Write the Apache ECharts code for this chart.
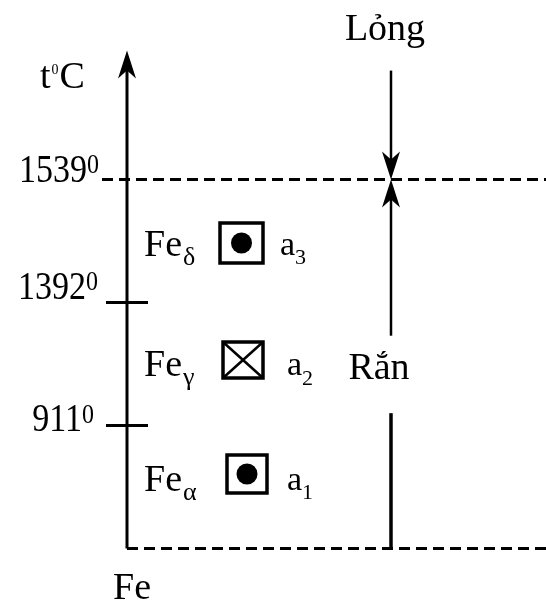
<!DOCTYPE html>
<html>
<head>
<meta charset="utf-8">
<script src="https://cdn.jsdelivr.net/npm/echarts@6/dist/echarts.min.js"></script>
<style>
html, body { margin: 0; padding: 0; background: #fff; }
#chart { width: 546px; height: 605px; }
</style>
</head>
<body>
<div id="chart"></div>
<script>
// các mốc nhiệt độ (từ dưới lên), vị trí theo bậc 1..3 trên trục
var levelLabels = ['911', '1392', '1539'];
var levelIndex = [1, 2, 3];
// các dạng thù hình của sắt
var phaseNames = ['α', 'γ', 'δ'];
var cellTypes = ['bcc', 'fcc', 'bcc'];
var latticeLabels = ['1', '2', '3'];
var stateLabels = ['Rắn', 'Lỏng'];
var axisTitle = ['t', '0', 'C'];
var elementName = 'Fe';

// bố cục (toạ độ trong hệ trục ẩn)
var AXIS_X = 127, RIGHT_X = 391, LINE_END = 546, AXIS_TOP = 4.05;
var levelLabelX = [94, 98, 99];
var levelLabelY = [1.036, 2.11, 3.065];
var phaseTextX = 144, phaseTextY = [0.551, 1.482, 2.462];
var latticeX = [287, 287, 280];
var boxX = [247, 243, 241.5], boxY = [0.605, 1.532, 2.484];
var boxW = [40, 40, 43], boxH = [38, 36, 40];

var FONT = '"Liberation Serif", "Times New Roman", serif';
var rich = {
    m: { fontSize: 38, fontFamily: FONT, color: '#000' },
    d: { fontSize: 34, fontFamily: FONT, color: '#000' },
    p: { fontSize: 24, fontFamily: FONT, color: '#000', verticalAlign: 'top' },
    q: { fontSize: 14, fontFamily: FONT, color: '#000', verticalAlign: 'top', padding: [4, 1, 0, 1] }
};

var ctx = document.createElement('canvas').getContext('2d');
function textWidth(str, size) {
    ctx.font = size + 'px ' + FONT;
    return ctx.measureText(str).width;
}

// các đoạn thẳng: x1, y1, x2, y2, kiểu (0 liền, 1 nét đứt, 2 mũi tên), độ dày
var lines = [];
lines.push([AXIS_X, 0, AXIS_X, AXIS_TOP, 2, 3]);
lines.push([AXIS_X, 0, LINE_END, 0, 1, 3]);
lines.push([102, levelIndex[2], LINE_END, levelIndex[2], 1, 3]);
lines.push([106, levelIndex[0], 148, levelIndex[0], 0, 3]);
lines.push([106, levelIndex[1], 148, levelIndex[1], 0, 3]);
lines.push([RIGHT_X, 3.886, RIGHT_X, levelIndex[2], 2, 2.5]);
lines.push([RIGHT_X, 1.73, RIGHT_X, levelIndex[2], 2, 2.5]);
lines.push([RIGHT_X, 1.10, RIGHT_X, 0, 0, 3.5]);

var boxes = [];
for (var i = 0; i < cellTypes.length; i++) {
    boxes.push([boxX[i], boxY[i], cellTypes[i] === 'fcc' ? 1 : 0, boxW[i], boxH[i]]);
}

// nhãn chữ: x, y, căn lề, nội dung, chỉ số dưới (nếu có)
var texts = [];
for (var i = 0; i < levelLabels.length; i++) {
    texts.push({ x: levelLabelX[i], y: levelLabelY[i], align: 'right', sy: 1.15, text: '{d|' + levelLabels[i] + '}{p|0}' });
}
for (var i = 0; i < phaseNames.length; i++) {
    texts.push({ x: phaseTextX, y: phaseTextY[i], base: elementName, size: 38, sub: phaseNames[i], subSize: 26, subDy: 12, gap: 1 });
    texts.push({ x: latticeX[i], y: phaseTextY[i], base: 'a', size: 34, sub: latticeLabels[i], subSize: 22, subDy: 13, gap: 0 });
}
texts.push({ x: 40, y: 3.826, align: 'left', text: '{m|' + axisTitle[0] + '}{q|' + axisTitle[1] + '}{m|' + axisTitle[2] + '}' });
texts.push({ x: 385, y: 4.216, align: 'center', text: '{m|' + stateLabels[1] + '}' });
texts.push({ x: 379, y: 1.46, align: 'center', text: '{m|' + stateLabels[0] + '}' });
texts.push({ x: 132, y: -0.33, align: 'center', text: '{m|' + elementName + '}' });

function renderLine(params, api) {
    var p1 = api.coord([api.value(0), api.value(1)]);
    var p2 = api.coord([api.value(2), api.value(3)]);
    var kind = api.value(4), w = api.value(5);
    var dx = p2[0] - p1[0], dy = p2[1] - p1[1];
    var len = Math.sqrt(dx * dx + dy * dy);
    var ux = dx / len, uy = dy / len;
    var end = kind === 2 ? [p2[0] - ux * 10, p2[1] - uy * 10] : p2;
    var children = [{
        type: 'line',
        shape: { x1: p1[0], y1: p1[1], x2: end[0], y2: end[1] },
        style: { stroke: '#000', lineWidth: w, lineDash: kind === 1 ? [11, 6] : null }
    }];
    if (kind === 2) {
        var L = 28, W = 9, N = 20;
        var bx = p2[0] - ux * L, by = p2[1] - uy * L;
        children.push({
            type: 'polygon',
            shape: { points: [
                [p2[0], p2[1]],
                [bx - uy * W, by + ux * W],
                [p2[0] - ux * N, p2[1] - uy * N],
                [bx + uy * W, by - ux * W]
            ] },
            style: { fill: '#000' }
        });
    }
    return { type: 'group', children: children };
}

function renderBox(params, api) {
    var c = api.coord([api.value(0), api.value(1)]);
    var fcc = api.value(2) === 1;
    var hw = api.value(3) / 2, hh = api.value(4) / 2;
    var children = [{
        type: 'rect',
        shape: { x: c[0] - hw, y: c[1] - hh, width: hw * 2, height: hh * 2 },
        style: { fill: 'none', stroke: '#000', lineWidth: 3.5 }
    }];
    if (fcc) {
        children.push({ type: 'line', shape: { x1: c[0] - hw, y1: c[1] - hh, x2: c[0] + hw, y2: c[1] + hh }, style: { stroke: '#000', lineWidth: 2.5 } });
        children.push({ type: 'line', shape: { x1: c[0] + hw, y1: c[1] - hh, x2: c[0] - hw, y2: c[1] + hh }, style: { stroke: '#000', lineWidth: 2.5 } });
    } else {
        children.push({ type: 'circle', shape: { cx: c[0], cy: c[1], r: 10.5 }, style: { fill: '#000' } });
    }
    return { type: 'group', children: children };
}

function renderText(params, api) {
    var t = texts[params.dataIndex];
    var c = api.coord([t.x, t.y]);
    if (t.base) {
        var w = textWidth(t.base, t.size);
        return {
            type: 'group',
            children: [{
                type: 'text', x: c[0], y: c[1],
                style: { text: t.base, fontSize: t.size, fontFamily: FONT, align: 'left', verticalAlign: 'middle', fill: '#000' }
            }, {
                type: 'text', x: c[0] + w + t.gap, y: c[1] + t.subDy,
                style: { text: t.sub, fontSize: t.subSize, fontFamily: FONT, align: 'left', verticalAlign: 'middle', fill: '#000' }
            }]
        };
    }
    return {
        type: 'text',
        x: c[0],
        y: c[1],
        scaleY: t.sy || 1,
        style: { text: t.text, rich: rich, align: t.align, verticalAlign: 'middle', fontFamily: FONT, fill: '#000' }
    };
}

var myChart = echarts.init(document.getElementById('chart'));
var option = {
    backgroundColor: '#fff',
    animation: false,
    grid: { left: 0, right: 0, top: 0, bottom: 0 },
    xAxis: { type: 'value', min: 0, max: 546, show: false },
    yAxis: { type: 'value', min: -0.46, max: 4.46, show: false },
    series: [
        { type: 'custom', renderItem: renderLine, data: lines, clip: false, silent: true },
        { type: 'custom', renderItem: renderBox, data: boxes, clip: false, silent: true },
        { type: 'custom', renderItem: renderText, data: texts.map(function (t) { return [t.x, t.y]; }), clip: false, silent: true }
    ]
};
myChart.setOption(option);
</script>
</body>
</html>
